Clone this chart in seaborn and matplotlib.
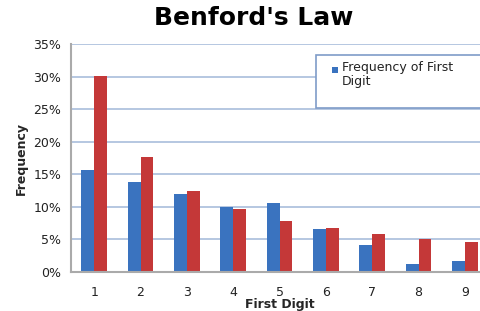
import numpy as np
import pandas as pd
import matplotlib
matplotlib.use("Agg")
import matplotlib.pyplot as plt
import matplotlib.patches as mpatches
from matplotlib.ticker import FixedLocator, FuncFormatter
import seaborn as sns

digits = ['1', '2', '3', '4', '5', '6', '7', '8', '9']
observed = [15.7, 13.8, 12.0, 10.0, 10.6, 6.6, 4.2, 1.3, 1.7]
benford = [30.1, 17.6, 12.5, 9.7, 7.9, 6.7, 5.8, 5.1, 4.6]

df = pd.DataFrame({
    'digit': digits * 2,
    'freq': observed + benford,
    'series': ['Frequency of First Digit'] * 9 + ['Benford'] * 9,
})

sns.set_style("white")
plt.rcParams['font.family'] = ['DejaVu Sans']

fig = plt.figure(figsize=(4.81, 3.11), dpi=100)
ax = fig.add_axes([0.1476, 0.1254, 0.867, 0.7331])

sns.barplot(data=df, x='digit', y='freq', hue='series', ax=ax,
            palette=['#3a73bf', '#c43838'], width=0.55, legend=False,
            saturation=1, edgecolor='none')

ax.set_xlim(-0.5, 8.5)
ax.set_ylim(0, 35)
ax.set_yticks(np.arange(0, 36, 5))
ax.yaxis.set_major_formatter(FuncFormatter(lambda v, p: '%d%%' % v))
ax.grid(axis='y', color='#a9bedc', linewidth=1.2)
ax.set_axisbelow(True)
ax.tick_params(axis='y', length=4, color='#999999', labelsize=9, labelcolor='#222222', pad=3)
ax.tick_params(axis='x', length=0, labelsize=9, labelcolor='#222222', pad=10)
ax.xaxis.set_minor_locator(FixedLocator(np.arange(-0.5, 9, 1)))
ax.tick_params(axis='x', which='minor', length=4, color='#999999')

for s in ['top', 'right']:
    ax.spines[s].set_visible(False)
ax.spines['left'].set_color('#aaaaaa')
ax.spines['bottom'].set_color('#aaaaaa')
ax.spines['left'].set_linewidth(1.5)
ax.spines['bottom'].set_linewidth(1.5)

ax.set_xlabel('First Digit', fontsize=9, fontweight='bold', labelpad=-1)
ax.set_ylabel('Frequency', fontsize=9, fontweight='bold', labelpad=4)
fig.suptitle("Benford's Law", fontsize=18, fontweight='bold', color='black', x=0.527, y=0.98)

# legend drawn by hand: box runs off the right edge like in the original
box = mpatches.Rectangle((316 / 481, 1 - 108 / 311), 0.4, 53 / 311,
                         transform=fig.transFigure, facecolor='white',
                         edgecolor='#7f9cc8', linewidth=1.2, zorder=5)
fig.add_artist(box)
mark = mpatches.Rectangle((332 / 481, 1 - 73 / 311), 6 / 481, 6 / 311,
                          transform=fig.transFigure, facecolor='#3a73bf',
                          edgecolor='none', zorder=6)
fig.add_artist(mark)
fig.text(342 / 481, 1 - 61 / 311, 'Frequency of First\nDigit', fontsize=9,
         va='top', ha='left', color='#222222', linespacing=1.05, zorder=6)

plt.savefig('out.png', dpi=100)
